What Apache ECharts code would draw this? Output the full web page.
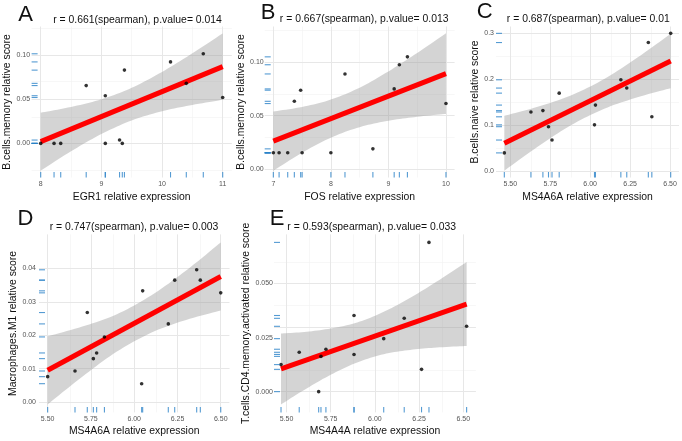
<!DOCTYPE html>
<html><head><meta charset="utf-8">
<script src="https://cdn.jsdelivr.net/npm/echarts@6/dist/echarts.min.js"></script>
<style>html,body{margin:0;padding:0;background:#fff}#c{width:682px;height:441px}</style>
</head><body><div id="c"></div>
<script>
// ---------- Panel A : EGR1 vs B.cells.memory ----------
const aX = [8.0, 8.22, 8.33, 8.75, 9.065, 9.065, 9.30, 9.345, 9.38, 10.14, 10.40, 10.68, 11.0];
const aY = [0, 0, 0, 0.0655, 0.054, 0, 0.0038, 0, 0.083, 0.0923, 0.068, 0.1015, 0.052];
const aBandX = [8, 8.5, 9, 9.5, 10, 10.5, 11];
const aBandLo = [-0.0308, -0.0089, 0.0106, 0.026, 0.0364, 0.0436, 0.0494];
const aBandHi = [0.0348, 0.0413, 0.050, 0.063, 0.081, 0.102, 0.1246];
const aFit = [[8, 0.002], [11, 0.087]];
const aXRange = [7.85, 11.15], aYRange = [-0.0386, 0.1324];
const aXTicks = [8, 9, 10, 11], aXMinor = [8.5, 9.5, 10.5];
const aYTicks = [0, 0.05, 0.10], aYMinor = [-0.025, 0.025, 0.075, 0.125];
const aTitle = 'r = 0.661(spearman), p.value= 0.014';

// ---------- Panel B : FOS vs B.cells.memory ----------
const bX = [7.0, 7.10, 7.25, 7.365, 7.475, 7.50, 8.0, 8.245, 8.73, 9.10, 9.19, 9.33, 10.0];
const bY = [0.0152, 0.0152, 0.0152, 0.0634, 0.0738, 0.0152, 0.0152, 0.089, 0.0189, 0.075, 0.0976, 0.105, 0.0613];
const bBandX = [7, 7.5, 8, 8.5, 9, 9.5, 10];
const bBandLo = [-0.0015, 0.0153, 0.0294, 0.0392, 0.0452, 0.0489, 0.0516];
const bBandHi = [0.0539, 0.0581, 0.065, 0.0762, 0.0914, 0.1087, 0.127];
const bFit = [[7, 0.0262], [10, 0.0893]];
const bXRange = [6.85, 10.15], bYRange = [-0.0079, 0.1334];
const bXTicks = [7, 8, 9, 10], bXMinor = [7.5, 8.5, 9.5];
const bYTicks = [0, 0.05, 0.10], bYMinor = [0.025, 0.075, 0.125];
const bTitle = 'r = 0.667(spearman), p.value= 0.013';

// ---------- Panel C : MS4A6A vs B.cells.naive ----------
const cX = [5.4625, 5.629, 5.704, 5.739, 5.761, 5.806, 6.027, 6.033, 6.192, 6.229, 6.364, 6.386, 6.504];
const cY = [0.040, 0.129, 0.132, 0.097, 0.068, 0.170, 0.101, 0.144, 0.199, 0.181, 0.280, 0.1185, 0.300];
const cBandX = [5.4625, 5.671, 5.879, 6.088, 6.296, 6.504];
const cBandLo = [0.0014, 0.0533, 0.1001, 0.1360, 0.1610, 0.1808];
const cBandHi = [0.1206, 0.1403, 0.1651, 0.2008, 0.2474, 0.2992];
const cFit = [[5.4625, 0.061], [6.504, 0.240]];
const cXRange = [5.4104, 6.556], cYRange = [-0.0135, 0.3149];
const cXTicks = [5.5, 5.75, 6.0, 6.25, 6.5], cXMinor = [5.625, 5.875, 6.125, 6.375];
const cYTicks = [0, 0.1, 0.2, 0.3], cYMinor = [0.05, 0.15, 0.25];
const cTitle = 'r = 0.687(spearman), p.value= 0.01';

// ---------- Panel D : MS4A6A vs Macrophages.M1 ----------
const dX = [5.50, 5.658, 5.729, 5.764, 5.783, 5.828, 6.043, 6.049, 6.197, 6.234, 6.361, 6.382, 6.50];
const dY = [0.0076, 0.0093, 0.0268, 0.013, 0.0147, 0.0195, 0.0055, 0.0333, 0.0234, 0.0365, 0.0396, 0.0365, 0.0327];
const dBandX = [5.5, 5.7, 5.9, 6.1, 6.3, 6.5];
const dBandLo = [-0.0007, 0.0076, 0.0151, 0.0208, 0.0246, 0.0274];
const dBandHi = [0.0197, 0.0226, 0.0263, 0.0320, 0.0394, 0.0478];
const dFit = [[5.5, 0.0095], [6.5, 0.0376]];
const dXRange = [5.45, 6.55], dYRange = [-0.0031, 0.0502];
const dXTicks = [5.5, 5.75, 6.0, 6.25, 6.5], dXMinor = [5.625, 5.875, 6.125, 6.375];
const dYTicks = [0, 0.01, 0.02, 0.03, 0.04], dYMinor = [0.005, 0.015, 0.025, 0.035, 0.045];
const dTitle = 'r = 0.747(spearman), p.value= 0.003';

// ---------- Panel E : MS4A4A vs T.cells.CD4.memory.activated ----------
const eX = [5.469, 5.572, 5.682, 5.695, 5.723, 5.882, 5.882, 6.050, 6.166, 6.264, 6.306, 6.519];
const eY = [0.0125, 0.0182, 0.0, 0.0163, 0.0196, 0.0352, 0.0172, 0.0245, 0.0339, 0.0103, 0.069, 0.0302];
const eBandX = [5.469, 5.6, 5.75, 5.9, 6.05, 6.2, 6.35, 6.519];
const eBandLo = [-0.0059, 0.0008, 0.0078, 0.0135, 0.0173, 0.0193, 0.0204, 0.0211];
const eBandHi = [0.0269, 0.0276, 0.0292, 0.0320, 0.0369, 0.0434, 0.0509, 0.0599];
const eFit = [[5.469, 0.0105], [6.519, 0.0405]];
const eXRange = [5.4293, 6.5715], eYRange = [-0.0096, 0.0727];
const eXTicks = [5.5, 5.75, 6.0, 6.25, 6.5], eXMinor = [5.625, 5.875, 6.125, 6.375];
const eYTicks = [0, 0.025, 0.05], eYMinor = [0.0125, 0.0375, 0.0625];
const eTitle = 'r = 0.593(spearman), p.value= 0.033';

const panels = [
  {x:aX, y:aY, bx:aBandX, lo:aBandLo, hi:aBandHi, fit:aFit, xr:aXRange, yr:aYRange, xt:aXTicks, xm:aXMinor, yt:aYTicks, ym:aYMinor, xd:0, yd:2, xn:'EGR1 relative expression', yn:'B.cells.memory relative score', title:aTitle, letter:'A'},
  {x:bX, y:bY, bx:bBandX, lo:bBandLo, hi:bBandHi, fit:bFit, xr:bXRange, yr:bYRange, xt:bXTicks, xm:bXMinor, yt:bYTicks, ym:bYMinor, xd:0, yd:2, xn:'FOS relative expression', yn:'B.cells.memory relative score', title:bTitle, letter:'B'},
  {x:cX, y:cY, bx:cBandX, lo:cBandLo, hi:cBandHi, fit:cFit, xr:cXRange, yr:cYRange, xt:cXTicks, xm:cXMinor, yt:cYTicks, ym:cYMinor, xd:2, yd:1, xn:'MS4A6A relative expression', yn:'B.cells.naive relative score', title:cTitle, letter:'C'},
  {x:dX, y:dY, bx:dBandX, lo:dBandLo, hi:dBandHi, fit:dFit, xr:dXRange, yr:dYRange, xt:dXTicks, xm:dXMinor, yt:dYTicks, ym:dYMinor, xd:2, yd:2, xn:'MS4A6A relative expression', yn:'Macrophages.M1 relative score', title:dTitle, letter:'D'},
  {x:eX, y:eY, bx:eBandX, lo:eBandLo, hi:eBandHi, fit:eFit, xr:eXRange, yr:eYRange, xt:eXTicks, xm:eXMinor, yt:eYTicks, ym:eYMinor, xd:2, yd:3, xn:'MS4A4A relative expression', yn:'T.cells.CD4.memory.activated relative score', title:eTitle, letter:'E'}
];

// layout (pixels): plot box, title centre, letter centre, y-name gap
const layout = [
  {box:[31.6, 26.5, 200.2, 151], title:[137.5, 20], letter:[25.5, 15], yGap:17, yMargin:1.5},
  {box:[264.7, 26.5, 189.9, 151], title:[364.2, 19], letter:[268, 12.5], yGap:16, yMargin:1},
  {box:[496, 26.5, 183, 151], title:[588.3, 19], letter:[484.7, 11.5], yGap:15, yMargin:2},
  {box:[39, 234.4, 190.4, 178], title:[134, 227], letter:[25.5, 219], yGap:20, yMargin:3},
  {box:[274, 234.4, 201.9, 178], title:[371.7, 227], letter:[277, 219], yGap:18.5, yMargin:1}
];

const FF = '"Liberation Sans", Arial, Helvetica, sans-serif';
const MAJ = '#e7e7e7', MIN = '#f2f2f2';
const RUG = '#2a82c8', BAND = 'rgba(153,153,153,0.42)';

// Catmull-Rom resampling of pixel points, only used to draw a smooth outline
function smoothPts(P) {
  const out = [], n = P.length, S = 10;
  for (let i = 0; i < n - 1; i++) {
    const p0 = P[Math.max(i - 1, 0)], p1 = P[i], p2 = P[i + 1], p3 = P[Math.min(i + 2, n - 1)];
    for (let s = 0; s < S; s++) {
      const t = s / S, t2 = t * t, t3 = t2 * t;
      const f = (a, b, c, d) => 0.5 * (2 * b + (-a + c) * t + (2 * a - 5 * b + 4 * c - d) * t2 + (-a + 3 * b - 3 * c + d) * t3);
      out.push([f(p0[0], p1[0], p2[0], p3[0]), f(p0[1], p1[1], p2[1], p3[1])]);
    }
  }
  out.push(P[n - 1]);
  return out;
}

const grids = [], xAxes = [], yAxes = [], series = [], graphics = [];
panels.forEach((p, i) => {
  const L = layout[i];
  grids.push({left:L.box[0], top:L.box[1], width:L.box[2], height:L.box[3], containLabel:false, outerBoundsMode:'none'});
  xAxes.push({gridIndex:i, type:'value', min:p.xr[0], max:p.xr[1],
    axisLine:{show:false}, axisTick:{show:false}, splitLine:{show:false},
    axisLabel:{customValues:p.xt, formatter:(v)=>Number(v).toFixed(p.xd), fontSize:7, color:'#555', margin:3, fontFamily:FF},
    name:p.xn, nameLocation:'middle', nameGap:14.2, nameTextStyle:{fontSize:10.4, color:'#111', fontFamily:FF}});
  yAxes.push({gridIndex:i, type:'value', min:p.yr[0], max:p.yr[1],
    axisLine:{show:false}, axisTick:{show:false}, splitLine:{show:false},
    axisLabel:{customValues:p.yt, formatter:(v)=>Number(v).toFixed(p.yd), fontSize:7, color:'#555', margin:L.yMargin, fontFamily:FF},
    name:p.yn, nameLocation:'middle', nameRotate:90, nameGap:L.yGap, nameTextStyle:{fontSize:10.4, color:'#111', fontFamily:FF}});
  const gl = [];
  p.xm.forEach(v => gl.push({xAxis:v, lineStyle:{color:MIN, width:0.6, type:'solid'}}));
  p.ym.forEach(v => gl.push({yAxis:v, lineStyle:{color:MIN, width:0.6, type:'solid'}}));
  p.xt.forEach(v => gl.push({xAxis:v, lineStyle:{color:MAJ, width:1, type:'solid'}}));
  p.yt.forEach(v => gl.push({yAxis:v, lineStyle:{color:MAJ, width:1, type:'solid'}}));
  series.push({type:'line', xAxisIndex:i, yAxisIndex:i, data:[[p.xr[0], p.yr[0]]], symbol:'none', z:1, silent:true,
    lineStyle:{opacity:0},
    markLine:{silent:true, z:1, symbol:['none','none'], label:{show:false}, animation:false, emphasis:{disabled:true},
      lineStyle:{type:'solid'}, data:gl}});
  // confidence band
  series.push({type:'custom', xAxisIndex:i, yAxisIndex:i, z:2, silent:true, clip:true,
    data:[[p.bx[0], p.lo[0]]],
    renderItem:(params, api) => {
      const up = p.bx.map((x, k) => api.coord([x, p.hi[k]]));
      const dn = p.bx.map((x, k) => api.coord([x, p.lo[k]]));
      const pts = smoothPts(up).concat(smoothPts(dn).reverse());
      return {type:'polygon', shape:{points:pts}, style:{fill:BAND, stroke:null}};
    }});
  series.push({type:'line', xAxisIndex:i, yAxisIndex:i, symbol:'none', z:3, silent:true,
    lineStyle:{color:'#ff0000', width:5, cap:'butt'}, data:p.fit});
  series.push({type:'scatter', xAxisIndex:i, yAxisIndex:i, symbolSize:3.6, z:4, silent:true, clip:false,
    itemStyle:{color:'#000'}, data:p.x.map((x, k) => [x, p.y[k]])});
  series.push({type:'scatter', xAxisIndex:i, yAxisIndex:i, symbol:'rect', symbolSize:[1.1, 5.5], symbolOffset:[0, -2.75], z:5, silent:true, clip:false,
    itemStyle:{color:RUG}, data:p.x.map(x => [x, p.yr[0]])});
  series.push({type:'scatter', xAxisIndex:i, yAxisIndex:i, symbol:'rect', symbolSize:[6, 1.1], symbolOffset:[3, 0], z:5, silent:true, clip:false,
    itemStyle:{color:RUG}, data:p.y.map(y => [p.xr[0], y])});
  graphics.push({type:'text', x:L.title[0], y:L.title[1], style:{text:p.title, fill:'#111', font:'10.4px ' + FF, align:'center', verticalAlign:'middle'}});
  graphics.push({type:'text', x:L.letter[0], y:L.letter[1], style:{text:p.letter, fill:'#111', font:'22px ' + FF, align:'center', verticalAlign:'middle'}});
});

const chart = echarts.init(document.getElementById('c'), null, {renderer:'canvas', width:682, height:441});
chart.setOption({
  animation:false,
  backgroundColor:'#ffffff',
  grid:grids, xAxis:xAxes, yAxis:yAxes, series:series, graphic:graphics
});
</script>
</body></html>
